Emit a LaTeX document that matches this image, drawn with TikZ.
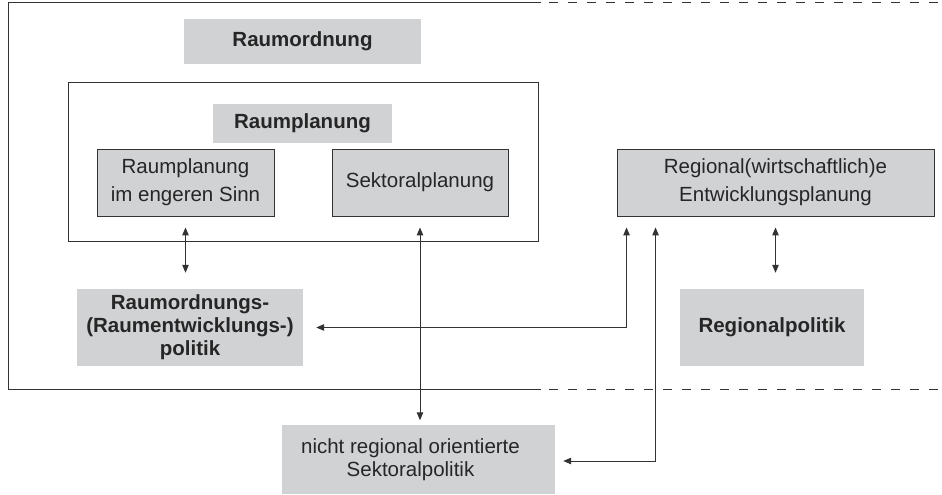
\documentclass[tikz,border=0pt]{standalone}
\usepackage{fontspec}
\setmainfont{Liberation Sans}
\usetikzlibrary{arrows.meta,calc}
\definecolor{boxgray}{HTML}{D1D2D4}
\definecolor{ink}{HTML}{262626}
\definecolor{linec}{HTML}{333333}
\begin{document}
\begin{tikzpicture}[x=1pt,y=-1pt,
  gbox/.style={fill=boxgray, draw=none, inner sep=0pt, text=ink, align=center,
    font=\fontsize{20.5}{28}\selectfont},
  boldbox/.style={gbox, font=\fontsize{20.5}{28}\selectfont\bfseries},
  bbox/.style={gbox, draw=linec, line width=0.9pt},
  conn/.style={draw=linec, line width=1pt,
    {Triangle[length=8pt,width=6.5pt]}-{Triangle[length=8pt,width=6.5pt]}},
  frameline/.style={draw=linec, line width=1pt},
  dashline/.style={frameline, dash pattern=on 9pt off 10pt}]
\useasboundingbox (0,0) rectangle (942,495);
% frames
\draw[frameline] (541,3) -- (8,3) -- (8,389) -- (541,389);
\draw[dashline] (549,3) -- (942,3);
\draw[dashline] (549,389) -- (942,389);
\draw[frameline] (68,82) rectangle (538,241);
% nodes
\node[boldbox, minimum width=237pt, minimum height=45pt] (ro) at (302.5,41.5) {Raumordnung};
\node[boldbox, minimum width=179pt, minimum height=39pt] (rp) at (302.5,123.5) {Raumplanung};
\node[bbox, minimum width=177pt, minimum height=67pt] (rpe) at (185.5,182.5) {Raumplanung\\im engeren Sinn};
\node[bbox, minimum width=176pt, minimum height=67pt] (sp) at (420,182.5) {Sektoralplanung};
\node[bbox, minimum width=317pt, minimum height=67pt] (rep) at (775.5,182.5) {Regional(wirtschaftlich)e\\Entwicklungsplanung};
\node[boldbox, minimum width=226pt, minimum height=77pt, font=\fontsize{20.5}{23}\selectfont\bfseries] (rop) at (190,327.5) {Raumordnungs-\\(Raumentwicklungs-)\\politik};
\node[boldbox, minimum width=184pt, minimum height=77pt] (regpol) at (772,327.5) {Regionalpolitik};
\node[gbox, minimum width=273pt, minimum height=69pt] (nrs) at (418.5,459) {};
\node[text=ink, align=center, inner sep=0pt, font=\fontsize{20.5}{23}\selectfont] (nrstext) at (410.5,460) {nicht regional orientierte\\Sektoralpolitik};
% connectors
\draw[conn, shorten <=11pt, shorten >=16pt] (rpe.south) -- (rpe.south |- rop.north);
\draw[conn, shorten <=11pt, shorten >=4pt] (sp.south) -- (sp.south |- nrs.north);
\draw[conn, shorten <=11pt, shorten >=13pt] ([xshift=10pt]rep.south west) |- (rop.east);
\draw[conn, shorten <=11pt, shorten >=8pt] ([xshift=39pt]rep.south west) |- ([yshift=-2pt]nrs.east);
\draw[conn, shorten <=11pt, shorten >=16pt] (rep.south) -- (rep.south |- regpol.north);
\end{tikzpicture}
\end{document}
